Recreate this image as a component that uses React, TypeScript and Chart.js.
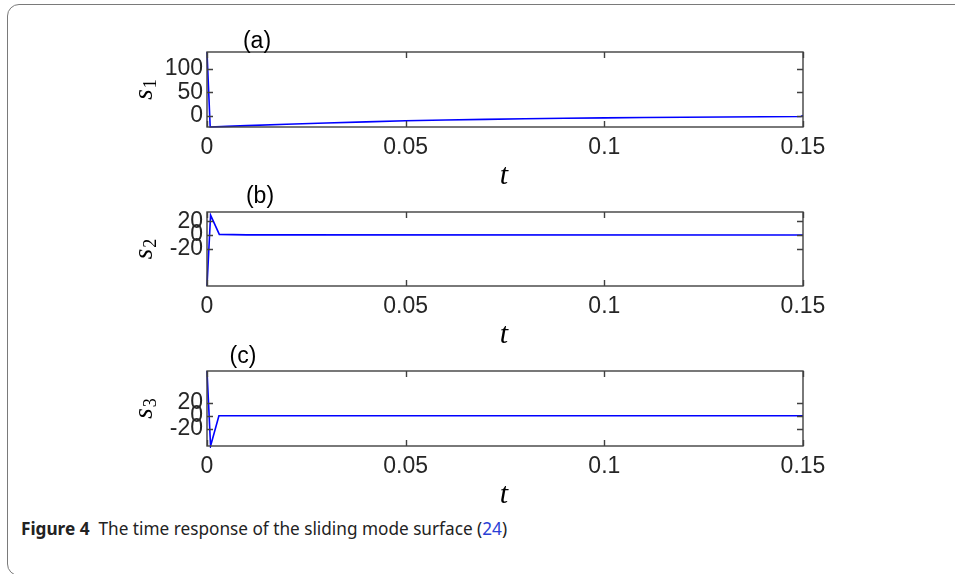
import React, { useEffect, useRef } from 'react';
import { Chart, registerables } from 'chart.js';

Chart.register(...registerables);

// ---- data ----
const timeA = [0, 0.0008, 0.005, 0.01, 0.02, 0.03, 0.04, 0.05, 0.06, 0.07, 0.08, 0.09, 0.1, 0.11, 0.12, 0.13, 0.14, 0.1495, 0.15];
const valuesA = [136.7, -24.2, -22.8, -21.2, -18.2, -15.6, -13.1, -10.9, -9.2, -7.8, -6.6, -5.5, -4.6, -3.8, -3.2, -2.6, -2.1, -1.8, 0.5];
const timeB = [0, 0.0009, 0.0031, 0.01, 0.15];
const valuesB = [-74, 29, 1, 0.3, 0];
const timeC = [0, 0.0009, 0.003, 0.01, 0.15];
const valuesC = [68.8, -46.6, 0, 0, 0];

const xTicks = [0, 0.05, 0.1, 0.15];
const yTicksA = [0, 50, 100];
const yTicksB = [-20, 0, 20];
const yTicksC = [-20, 0, 20];
const panelTitles = ['(a)', '(b)', '(c)'];
const ySubscripts = ['1', '2', '3'];
const xLabel = 't';
const yLabelBase = 's';

// ---- layout ----
const W = 955;
const PLOT_LEFT = 207;
const PLOT_RIGHT = 803;

const panels = [
  { t: timeA, v: valuesA, yTicks: yTicksA, yMin: -24.2, yMax: 136.7, top: 0, height: 195, plotTop: 52, plotBottom: 127, titleX: 257, titleY: 42 },
  { t: timeB, v: valuesB, yTicks: yTicksB, yMin: -74, yMax: 33.5, top: 175, height: 180, plotTop: 212, plotBottom: 286, titleX: 260, titleY: 197 },
  { t: timeC, v: valuesC, yTicks: yTicksC, yMin: -46.6, yMax: 68.8, top: 335, height: 180, plotTop: 371, plotBottom: 446, titleX: 243, titleY: 357 },
];

const TICK_FONT = { family: "'Liberation Sans', Arial, sans-serif", size: 23 };
const AXIS_COLOR = '#404040';

function makeConfig(idx: number): any {
  const p = panels[idx];
  const padTop = p.plotTop - p.top;
  const xHeight = p.top + p.height - p.plotBottom;
  const decor = {
    id: 'decor' + idx,
    afterDraw(chart: any) {
      const { ctx, chartArea } = chart;
      const xs = chart.scales.x;
      const ys = chart.scales.y;
      const { left, right, top, bottom } = chartArea;
      ctx.save();
      ctx.strokeStyle = AXIS_COLOR;
      ctx.lineWidth = 1.4;
      ctx.strokeRect(left, top, right - left, bottom - top);
      ctx.beginPath();
      const tl = 6;
      xTicks.forEach((v) => {
        const px = Math.round(xs.getPixelForValue(v)) + 0.5;
        ctx.moveTo(px, bottom);
        ctx.lineTo(px, bottom - tl);
        ctx.moveTo(px, top);
        ctx.lineTo(px, top + tl);
      });
      p.yTicks.forEach((v) => {
        const py = Math.round(ys.getPixelForValue(v)) + 0.5;
        ctx.moveTo(left, py);
        ctx.lineTo(left + tl, py);
        ctx.moveTo(right, py);
        ctx.lineTo(right - tl, py);
      });
      ctx.stroke();

      // title
      ctx.fillStyle = '#000';
      ctx.font = "23px 'Liberation Sans', Arial, sans-serif";
      ctx.textAlign = 'center';
      ctx.textBaseline = 'middle';
      ctx.fillText(panelTitles[idx], p.titleX, p.titleY - p.top);

      // x label
      ctx.font = "italic 30px 'Liberation Serif', 'Times New Roman', serif";
      ctx.textBaseline = 'alphabetic';
      ctx.fillText(xLabel, (left + right) / 2 - 1, bottom + 57);

      // y label (rotated)
      ctx.translate(152, (top + bottom) / 2);
      ctx.rotate(-Math.PI / 2);
      const sFont = "italic 27px 'Liberation Serif', 'Times New Roman', serif";
      const subFont = "18px 'Liberation Serif', 'Times New Roman', serif";
      ctx.font = sFont;
      const ws = ctx.measureText(yLabelBase).width;
      ctx.font = subFont;
      const w1 = ctx.measureText(ySubscripts[idx]).width;
      const start = -(ws + w1 + 1) / 2;
      ctx.textAlign = 'left';
      ctx.font = sFont;
      ctx.fillText(yLabelBase, start, 0);
      ctx.font = subFont;
      ctx.fillText(ySubscripts[idx], start + ws + 1, 4);
      ctx.restore();
    },
  };

  return {
    type: 'scatter',
    data: {
      datasets: [
        {
          data: p.t.map((t, i) => ({ x: t, y: p.v[i] })),
          showLine: true,
          borderColor: '#0000ff',
          borderWidth: 1.6,
          pointRadius: 0,
          pointHoverRadius: 0,
          tension: 0,
          clip: 2,
        },
      ],
    },
    options: {
      responsive: false,
      animation: false,
      devicePixelRatio: 1,
      layout: { padding: { top: padTop, right: W - PLOT_RIGHT, left: 0, bottom: 0 } },
      plugins: { legend: { display: false }, tooltip: { enabled: false }, title: { display: false } },
      scales: {
        x: {
          type: 'linear',
          min: 0,
          max: 0.15,
          afterBuildTicks: (s: any) => {
            s.ticks = xTicks.map((v) => ({ value: v }));
          },
          afterFit: (s: any) => {
            s.height = xHeight;
          },
          ticks: {
            autoSkip: false,
            maxRotation: 0,
            padding: 7,
            color: '#262626',
            font: TICK_FONT,
            callback: (v: any) => String(v),
          },
          grid: { display: false, drawTicks: false },
          border: { display: false },
        },
        y: {
          type: 'linear',
          min: p.yMin,
          max: p.yMax,
          afterBuildTicks: (s: any) => {
            s.ticks = p.yTicks.map((v) => ({ value: v }));
          },
          afterFit: (s: any) => {
            s.width = PLOT_LEFT;
          },
          ticks: {
            autoSkip: false,
            padding: 4,
            color: '#262626',
            font: TICK_FONT,
            callback: (v: any) => String(v),
          },
          grid: { display: false, drawTicks: false },
          border: { display: false },
        },
      },
    },
    plugins: [decor],
  };
}

export default function App() {
  const r0 = useRef<HTMLCanvasElement>(null);
  const r1 = useRef<HTMLCanvasElement>(null);
  const r2 = useRef<HTMLCanvasElement>(null);

  useEffect(() => {
    const refs = [r0, r1, r2];
    const charts = refs.map((r, i) => new Chart(r.current as HTMLCanvasElement, makeConfig(i)));
    return () => charts.forEach((c) => c.destroy());
  }, []);

  const refs = [r0, r1, r2];
  return (
    <div style={{ position: 'absolute', left: 0, top: 0, width: 955, height: 574, overflow: 'hidden', background: '#fff' }}>
      <div
        style={{
          position: 'absolute',
          left: 7,
          top: 4,
          width: 1000,
          height: 572,
          border: '1.5px solid #7a7a7a',
          borderRadius: 12,
          boxSizing: 'border-box',
        }}
      />
      {panels.map((p, i) => (
        <canvas
          key={i}
          ref={refs[i]}
          width={W}
          height={p.height}
          style={{ position: 'absolute', left: 0, top: p.top, width: W, height: p.height }}
        />
      ))}
      <div
        style={{
          position: 'absolute',
          left: 21,
          top: 517,
          fontFamily: "'Noto Sans', 'Open Sans', sans-serif",
          fontSize: 17.2,
          lineHeight: '24px',
          color: '#222',
          whiteSpace: 'nowrap',
        }}
      >
        <span style={{ fontWeight: 700 }}>Figure 4</span>
        <span style={{ marginLeft: 9 }}>
          The time response of the sliding mode surface (<span style={{ color: '#2a3fd6' }}>24</span>)
        </span>
      </div>
    </div>
  );
}
